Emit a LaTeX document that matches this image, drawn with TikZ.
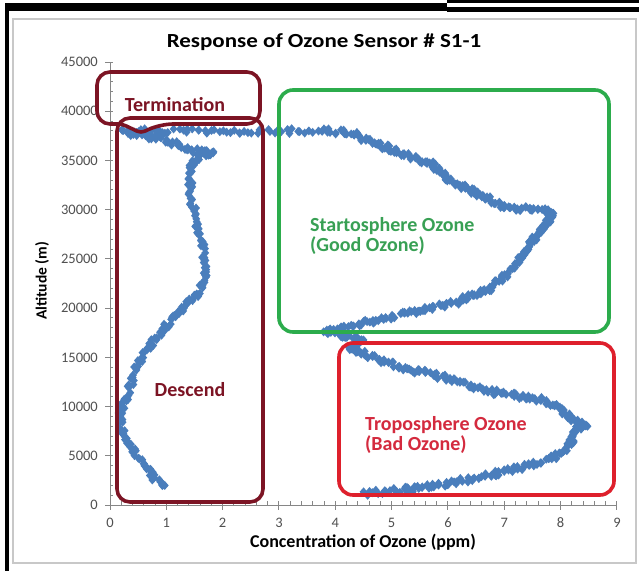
\documentclass[tikz,border=0pt]{standalone}
\usepackage{fontspec}
\setmainfont{Carlito}
\definecolor{maroonc}{RGB}{124,20,36}
\definecolor{greenc}{RGB}{44,172,76}
\definecolor{greentext}{RGB}{56,160,84}
\definecolor{redc}{RGB}{222,32,44}
\definecolor{redtext}{RGB}{212,42,62}
\definecolor{dblue}{RGB}{74,126,188}
\definecolor{axisgrey}{RGB}{134,134,134}
\definecolor{labgrey}{RGB}{80,80,80}
\definecolor{framegrey}{RGB}{200,200,200}
\def\ozpts{385/491, 405/490, 420/488, 437/485, 453/482, 470/479, 487/476,
 503/472, 520/467, 537/463, 553/457, 565/450, 571/443, 573/435, 578/428,
 585/425, 574/420, 568/414, 555/405, 540/400, 523/397, 505/394, 490/391,
 473/387, 457/382, 443/377, 430/373, 417/372, 405/369, 390/363, 373/357,
 360/352, 350/350, 355/345, 362/340, 345/336, 325/332, 340/329, 357/325,
 373/321, 390/317, 407/313, 423/310, 440/306, 457/302, 470/296, 480/293,
 490/289, 497/282, 507/274, 517/264, 524/253, 530/244, 536/236, 543/227,
 550/219, 554/214, 545/211, 530/210, 515/208, 503/206, 492/200, 482/195,
 470/190, 458/186, 448/180, 440/172, 432/164, 420/160, 408/156, 395/150,
 382/146, 368/141, 355/135, 340/132, 320/131, 290/131, 260/131, 230/131,
 200/131, 170/131, 145/131, 122/131, 140/135, 157/138, 173/143, 190/149,
 205/153, 213/153, 200/156, 193/162, 190/170, 190/187, 192/203, 196/220,
 200/237, 204/253, 206/270, 203/285, 195/297, 185/306, 175/316, 165/328,
 155/340, 145/352, 137/366, 131/382, 126/398, 121/412, 121/426, 126/440,
 135/453, 146/466, 156/479, 165/489}
\begin{document}
\begin{tikzpicture}[x=1pt,y=-1pt,
  ticklab/.style={font=\fontsize{14.5}{16}\selectfont, text=labgrey, inner sep=0pt},
  annot/.style={font=\fontsize{20}{22}\selectfont\bfseries, inner sep=0pt, anchor=base west},
  axtitle/.style={font=\fontsize{18}{20}\selectfont\bfseries, inner sep=0pt, text=black},
  axisline/.style={draw=axisgrey, line width=1pt},
  boxline/.style={line width=3.6pt, rounded corners=14pt}]
\useasboundingbox (0,0) rectangle (639,571);
\fill[white] (0,0) rectangle (639,571);
% outer frame remnants
\fill[black] (5,3) rectangle (447,11);
\fill[black] (447,0) rectangle (639,2.5);
\fill[black] (447,7) rectangle (639,12);
\fill[black] (5,3) rectangle (9,571);
\draw[framegrey, line width=1.5pt] (13,19) rectangle (636,563);
% title
\node[font=\fontsize{20}{22}\selectfont\bfseries, inner sep=0pt, anchor=base, xscale=1.15] (title) at (324,47) {Response of Ozone Sensor \# S1-1};
% axes
\draw[axisline] (110,505) -- (617,505);
\draw[axisline] (110,505) -- (110,62);
\foreach \i in {0,...,9} {
  \draw[axisline] ({110+56.33*\i},501) -- ({110+56.33*\i},510);
  \node[ticklab, anchor=base] (xl\i) at ({110+56.33*\i},527) {\i};
}
\foreach \i in {1,...,44} {
  \draw[axisline] ({110+56.33*\i/5},501) -- ({110+56.33*\i/5},505);
}
\foreach \k in {0,...,9} {
  \draw[axisline] (105,{505-49.22*\k}) -- (113,{505-49.22*\k});
  \node[ticklab, anchor=east] (yl\k) at (98,{505-49.22*\k}) {\the\numexpr\k*5000\relax};
}
\foreach \k in {1,...,44} {
  \draw[axisline] (110,{505-49.22*\k/5}) -- (113,{505-49.22*\k/5});
}
\node[axtitle, anchor=base] (xtitle) at (363,547) {Concentration of Ozone (ppm)};
\node[axtitle, font=\fontsize{15.5}{17}\selectfont\bfseries, rotate=90] (ytitle) at (42,281) {Altitude (m)};
% data
\pgfmathsetseed{7}
\foreach \x/\y [remember=\x as \px (initially 363), remember=\y as \py (initially 493)] in \ozpts {
  \foreach \t in {0,0.125,0.25,0.375,0.5,0.625,0.75,0.875} {
    \fill[dblue] ({\px+(\x-\px)*\t+rand*2.6},{\py+(\y-\py)*\t+rand*2.6}) ++(0,-4.5) -- ++(3.9,4.5) -- ++(-3.9,4.5) -- ++(-3.9,-4.5) -- cycle;
  }
}
% annotation boxes
\draw[maroonc, boxline, rounded corners=13pt] (117,118) rectangle (263,502);
\draw[greenc, boxline] (279,90) rectangle (609,332);
\draw[redc, boxline] (339,343) rectangle (614,495);
\draw[maroonc, line width=3.6pt, line join=round, rounded corners=13pt]
  (97,98) -- (97,72) -- (260,72) -- (260,124) -- (160,124)
  [rounded corners=4pt] -- (141,133) -- (122,124)
  [rounded corners=13pt] -- (97,124) -- cycle;
% annotation texts
\node[annot, text=maroonc, anchor=base] (term) at (175,111) {Termination};
\node[annot, text=maroonc, anchor=base] (desc) at (190,396) {Descend};
\node[annot, text=greentext] (strat1) at (310,231) {Startosphere Ozone};
\node[annot, text=greentext] (strat2) at (310,251) {(Good Ozone)};
\node[annot, text=redtext] (trop1) at (365,430) {Troposphere Ozone};
\node[annot, text=redtext] (trop2) at (365,450) {(Bad Ozone)};
\end{tikzpicture}
\end{document}
